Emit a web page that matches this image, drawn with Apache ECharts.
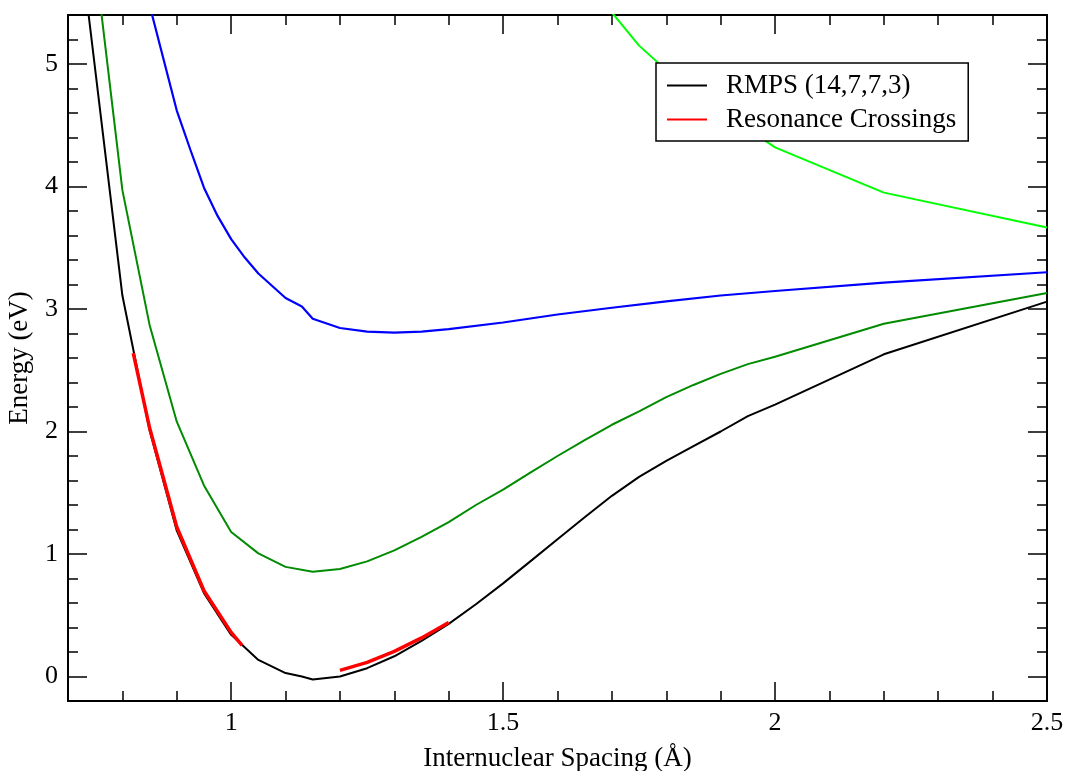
<!DOCTYPE html>
<html>
<head>
<meta charset="utf-8">
<script src="https://cdn.jsdelivr.net/npm/echarts@6/dist/echarts.min.js"></script>
<style>
html,body{margin:0;padding:0;background:#fff;}
#chart{width:1067px;height:771px;}
</style>
</head>
<body>
<div id="chart"></div>
<script>
// ---- data (Internuclear spacing in Å, energy in eV) ----
var rmpsX = [0.7, 0.8, 0.85, 0.9, 0.95, 1.0, 1.05, 1.1, 1.13, 1.15, 1.2, 1.25, 1.3, 1.35, 1.4, 1.45, 1.5, 1.55, 1.6, 1.65, 1.7, 1.75, 1.8, 1.85, 1.9, 1.95, 2.0, 2.2, 2.5];
var rmpsY = [6.8, 3.11, 2.01, 1.19, 0.68, 0.34, 0.135, 0.028, 0.0, -0.025, 0.0, 0.068, 0.165, 0.29, 0.43, 0.59, 0.76, 0.94, 1.12, 1.30, 1.475, 1.63, 1.76, 1.88, 2.0, 2.125, 2.22, 2.63, 3.06];

var greenX = [0.75, 0.8, 0.85, 0.9, 0.95, 1.0, 1.05, 1.1, 1.15, 1.2, 1.25, 1.3, 1.35, 1.4, 1.45, 1.5, 1.55, 1.6, 1.65, 1.7, 1.75, 1.8, 1.85, 1.9, 1.95, 2.0, 2.2, 2.5];
var greenY = [5.84, 3.97, 2.87, 2.08, 1.56, 1.18, 1.005, 0.895, 0.855, 0.877, 0.94, 1.03, 1.14, 1.26, 1.40, 1.525, 1.665, 1.80, 1.93, 2.055, 2.165, 2.28, 2.38, 2.47, 2.55, 2.61, 2.88, 3.13];

var blueX = [0.85, 0.9, 0.925, 0.95, 0.975, 1.0, 1.025, 1.05, 1.075, 1.1, 1.13, 1.15, 1.2, 1.25, 1.3, 1.35, 1.4, 1.5, 1.6, 1.7, 1.8, 1.9, 2.0, 2.2, 2.5];
var blueY = [5.48, 4.62, 4.30, 3.99, 3.76, 3.57, 3.42, 3.29, 3.19, 3.09, 3.02, 2.92, 2.845, 2.815, 2.807, 2.815, 2.835, 2.89, 2.955, 3.01, 3.062, 3.11, 3.147, 3.215, 3.30];

var limeX = [1.7, 1.75, 1.8, 1.9, 2.0, 2.2, 2.5];
var limeY = [5.42, 5.15, 4.95, 4.62, 4.32, 3.95, 3.665];

var res1X = [0.82, 0.85, 0.9, 0.95, 1.0, 1.02];
var res1Y = [2.64, 2.03, 1.22, 0.70, 0.36, 0.255];
var res2X = [1.2, 1.25, 1.3, 1.35, 1.4];
var res2Y = [0.05, 0.115, 0.205, 0.315, 0.44];

var xMajorTicks = [1, 1.5, 2, 2.5];
var yMajorTicks = [0, 1, 2, 3, 4, 5];

function pairs(xs, ys){ return xs.map(function(x,i){ return [x, ys[i]]; }); }

var FONT = '"Liberation Serif", "DejaVu Serif", serif';
var chart = echarts.init(document.getElementById('chart'), null, {renderer:'canvas'});

function xAxisDef(pos, major, withLabel){
  var a = {
    type:'value', position:pos, min:0.7, max:2.5, gridIndex:0,
    axisLine:{show:major, onZero:false, lineStyle:{color:'#000', width:2}},
    axisTick:{show:true, inside:true, length: major?19:10, lineStyle:{color:'#000', width:1.5}},
    axisLabel:{show:false},
    splitLine:{show:false}
  };
  if (major){
    a.axisTick.customValues = xMajorTicks;
    if (withLabel){
      a.axisLabel = {show:true, customValues:xMajorTicks, fontFamily:FONT, fontSize:26, color:'#000', margin:9,
        formatter:function(v){ return String(v); }};
      a.name = 'Internuclear Spacing (\u00C5)';
      a.nameLocation = 'middle';
      a.nameGap = 44;
      a.nameTextStyle = {fontFamily:FONT, fontSize:27, color:'#000'};
    }
  } else {
    a.interval = 0.1;
  }
  return a;
}
function yAxisDef(pos, major, withLabel){
  var a = {
    type:'value', position:pos, min:-0.2, max:5.4, gridIndex:0,
    axisLine:{show:major, onZero:false, lineStyle:{color:'#000', width:2}},
    axisTick:{show:true, inside:true, length: major?19:10, lineStyle:{color:'#000', width:1.5}},
    axisLabel:{show:false},
    splitLine:{show:false}
  };
  if (major){
    a.axisTick.customValues = yMajorTicks;
    if (withLabel){
      a.axisLabel = {show:true, customValues:yMajorTicks, fontFamily:FONT, fontSize:26, color:'#000', margin:10,
        formatter:function(v){ return String(v); }};
      a.name = 'Energy (eV)';
      a.nameLocation = 'middle';
      a.nameGap = 35;
      a.nameTextStyle = {fontFamily:FONT, fontSize:27, color:'#000'};
    }
  } else {
    a.interval = 0.2;
  }
  return a;
}

function lineSeries(name, xs, ys, color, width, z){
  return {
    name:name, type:'line', data:pairs(xs, ys), xAxisIndex:0, yAxisIndex:0,
    showSymbol:false, symbol:'none', smooth:false, clip:true,
    lineStyle:{color:color, width:width}, itemStyle:{color:color},
    emphasis:{disabled:true}, z:z
  };
}

var option = {
  animation:false,
  backgroundColor:'#fff',
  grid:{left:68, right:20, top:15, bottom:70, containLabel:false, outerBoundsMode:'none'},
  xAxis:[
    xAxisDef('bottom', true, true),
    xAxisDef('bottom', false, false),
    xAxisDef('top', true, false),
    xAxisDef('top', false, false)
  ],
  yAxis:[
    yAxisDef('left', true, true),
    yAxisDef('left', false, false),
    yAxisDef('right', true, false),
    yAxisDef('right', false, false)
  ],
  legend:{
    data:['RMPS (14,7,7,3)', 'Resonance Crossings'],
    orient:'vertical', left:656, top:63,
    padding:[9, 12, 8, 11],
    itemWidth:40, itemHeight:2, icon:'rect', itemGap:7,
    backgroundColor:'#fff', borderColor:'#000', borderWidth:1.5,
    selectedMode:false,
    textStyle:{fontFamily:FONT, fontSize:27, color:'#000', lineHeight:27, padding:[0,0,0,14]}
  },
  series:[
    lineSeries('Excited state 2', limeX, limeY, '#00ff00', 2, 2),
    lineSeries('Excited state 1', blueX, blueY, '#0000ff', 2.2, 2),
    lineSeries('Excited state 0', greenX, greenY, '#008b00', 2, 2),
    lineSeries('RMPS (14,7,7,3)', rmpsX, rmpsY, '#000000', 2, 3),
    lineSeries('Resonance Crossings', res1X, res1Y, '#ff0000', 3.5, 4),
    lineSeries('Resonance Crossings', res2X, res2Y, '#ff0000', 3.5, 4)
  ]
};
chart.setOption(option);
</script>
</body>
</html>
